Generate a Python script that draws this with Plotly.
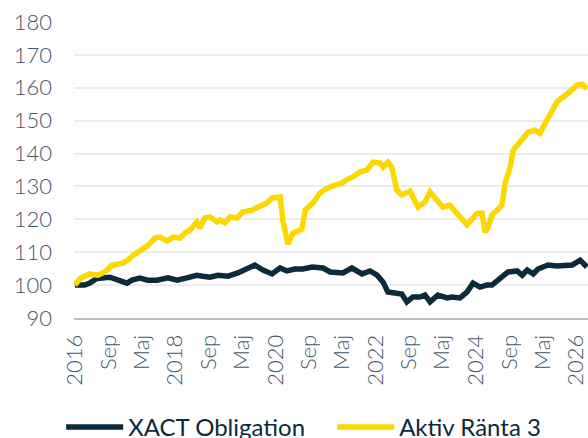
import plotly.graph_objects as go

# --- data ---
aktiv_dates = [
    "2016-01-01", "2016-02-07", "2016-04-18", "2016-06-16", "2016-08-06", "2016-09-26",
    "2016-12-15", "2017-01-21", "2017-02-27", "2017-05-02", "2017-06-15", "2017-08-06",
    "2017-09-12", "2017-11-02", "2017-12-15", "2018-02-05", "2018-03-11", "2018-04-17",
    "2018-06-07", "2018-06-29", "2018-08-05", "2018-09-11", "2018-11-01", "2018-11-23",
    "2018-12-29", "2019-02-04", "2019-03-25", "2019-05-08", "2019-07-13", "2019-09-25",
    "2019-10-31", "2019-12-07", "2020-02-04", "2020-02-26", "2020-04-01", "2020-05-08",
    "2020-07-12", "2020-08-04", "2020-10-01", "2020-11-21", "2021-01-12", "2021-03-09",
    "2021-04-29", "2021-06-12", "2021-07-18", "2021-09-08", "2021-10-29", "2021-12-12",
    "2022-02-02", "2022-02-24", "2022-03-30", "2022-04-28", "2022-06-04", "2022-07-10",
    "2022-09-08", "2022-11-05", "2022-12-26", "2023-02-01", "2023-03-08", "2023-05-05",
    "2023-06-25", "2023-08-23", "2023-10-28", "2024-01-09", "2024-02-15", "2024-03-07",
    "2024-03-29", "2024-04-27", "2024-07-09", "2024-08-01", "2024-09-07", "2024-09-29",
    "2024-11-19", "2025-01-16", "2025-03-06", "2025-04-12", "2025-06-02", "2025-08-14",
    "2025-10-26", "2026-01-08", "2026-02-14", "2026-03-20",
]
aktiv_values = [
    100.0, 102.0, 103.4, 103.0, 104.0, 106.0,
    106.7, 107.6, 109.0, 110.7, 112.0, 114.3,
    114.6, 113.4, 114.6, 114.3, 115.8, 116.7,
    119.2, 117.4, 120.4, 120.7, 119.2, 119.8,
    118.9, 120.7, 120.4, 122.2, 122.8, 124.3,
    125.0, 126.5, 126.8, 119.2, 112.5, 115.8,
    117.0, 122.8, 125.0, 128.0, 129.5, 130.4,
    131.0, 132.2, 132.9, 134.4, 135.0, 137.4,
    137.1, 135.9, 137.4, 135.9, 128.9, 127.4,
    128.6, 123.7, 125.3, 128.3, 126.5, 123.7,
    124.3, 121.3, 118.3, 121.8, 121.9, 116.1,
    117.4, 121.3, 124.3, 131.0, 135.9, 141.0,
    143.5, 146.5, 147.1, 146.2, 150.2, 155.7,
    158.1, 160.8, 161.1, 159.6,
]

xact_dates = [
    "2016-01-01", "2016-03-12", "2016-04-18", "2016-06-08", "2016-09-12", "2016-11-24",
    "2017-01-14", "2017-02-20", "2017-04-17", "2017-06-15", "2017-08-20", "2017-11-09",
    "2018-01-14", "2018-03-26", "2018-06-07", "2018-07-21", "2018-09-11", "2018-11-08",
    "2019-01-20", "2019-04-02", "2019-06-14", "2019-08-04", "2019-10-02", "2019-12-07",
    "2020-02-04", "2020-03-24", "2020-05-22", "2020-07-19", "2020-09-24", "2020-12-13",
    "2021-02-03", "2021-05-07", "2021-07-11", "2021-09-23", "2021-11-20", "2022-01-11",
    "2022-02-24", "2022-03-30", "2022-05-20", "2022-07-10", "2022-08-16", "2022-09-29",
    "2022-11-19", "2022-12-26", "2023-02-01", "2023-03-30", "2023-06-04", "2023-07-10",
    "2023-09-07", "2023-10-28", "2023-12-11", "2024-01-31", "2024-03-21", "2024-04-27",
    "2024-06-10", "2024-08-22", "2024-10-27", "2024-12-03", "2025-01-09", "2025-02-22",
    "2025-03-28", "2025-06-10", "2025-08-14", "2025-10-26", "2025-12-02", "2026-01-30",
    "2026-03-20",
]
xact_values = [
    100.0, 100.0, 100.6, 102.0, 102.4, 101.2,
    100.6, 101.5, 102.1, 101.5, 101.5, 102.2,
    101.5, 102.2, 103.0, 102.7, 102.4, 103.0,
    102.7, 103.7, 105.2, 106.1, 104.6, 103.4,
    105.2, 104.3, 104.9, 104.9, 105.5, 105.2,
    104.0, 103.7, 105.2, 103.4, 104.3, 103.0,
    100.9, 97.9, 97.6, 97.3, 94.9, 96.4,
    96.4, 97.0, 94.9, 97.0, 96.1, 96.4,
    96.1, 97.9, 100.6, 99.4, 100.0, 100.0,
    101.5, 104.0, 104.3, 103.0, 104.6, 103.4,
    104.9, 106.1, 105.8, 105.8, 106.1, 107.6,
    105.5,
]

series_names = ["XACT Obligation", "Aktiv Ränta 3"]

tick_dates = [
    "2016-01-01", "2016-09-01", "2017-05-01", "2018-01-01", "2018-09-01", "2019-05-01",
    "2020-01-01", "2020-09-01", "2021-05-01", "2022-01-01", "2022-09-01", "2023-05-01",
    "2024-01-01", "2024-09-01", "2025-05-01", "2026-01-01",
]
tick_labels = [
    "2016", "Sep", "Maj", "2018", "Sep", "Maj",
    "2020", "Sep", "Maj", "2022", "Sep", "Maj",
    "2024", "Sep", "Maj", "2026",
]
y_ticks = [90, 100, 110, 120, 130, 140, 150, 160, 170, 180]

# --- styling ---
NAVY = "#0b2a3c"
GOLD = "#ffd700"
LABEL = "#3f5668"
FONT = "Lato, 'Open Sans', sans-serif"

fig = go.Figure()
fig.add_trace(go.Scatter(
    x=xact_dates, y=xact_values, name=series_names[0], mode="lines",
    line=dict(color=NAVY, width=5.5, shape="linear"),
))
fig.add_trace(go.Scatter(
    x=aktiv_dates, y=aktiv_values, name=series_names[1], mode="lines",
    line=dict(color=GOLD, width=5.5, shape="linear"),
))

fig.update_layout(
    width=588, height=438,
    margin=dict(l=74, r=0, t=22, b=120, autoexpand=False),
    paper_bgcolor="white", plot_bgcolor="white",
    font=dict(family=FONT, color=LABEL, size=22),
    showlegend=True,
    legend=dict(
        orientation="h", x=-0.025, xanchor="left", y=-0.37, yanchor="middle",
        font=dict(family=FONT, size=24, color=NAVY),
        itemwidth=57, entrywidth=199, entrywidthmode="pixels",
        tracegroupgap=0, traceorder="normal",
        bgcolor="rgba(0,0,0,0)",
    ),
    xaxis=dict(
        type="date",
        range=["2015-12-25", "2026-03-28"],
        tickmode="array", tickvals=tick_dates, ticktext=tick_labels,
        tickangle=-90, tickfont=dict(family=FONT, size=22, color=LABEL, weight=300),
        showgrid=False, zeroline=False,
        showline=True, linecolor="#bdbdbd", linewidth=2,
        ticks="", ticklabelstandoff=6, ticklabeloverflow="allow",
    ),
    yaxis=dict(
        range=[90, 180], tickmode="array", tickvals=y_ticks,
        tickfont=dict(family=FONT, size=22, color=LABEL, weight=300),
        showgrid=True, gridcolor="#ececec", gridwidth=2,
        zeroline=False, showline=False, ticks="", ticklabelstandoff=21,
        ticklabeloverflow="allow",
    ),
)

# remove the default page margin so the figure fills the 588x438 window exactly
page_fix = (
    "document.documentElement.style.margin='0';"
    "document.documentElement.style.overflow='hidden';"
    "document.body.style.margin='0';"
    "document.body.style.overflow='hidden';"
)

fig.write_html("out.html", post_script=page_fix, config={"displayModeBar": False})
